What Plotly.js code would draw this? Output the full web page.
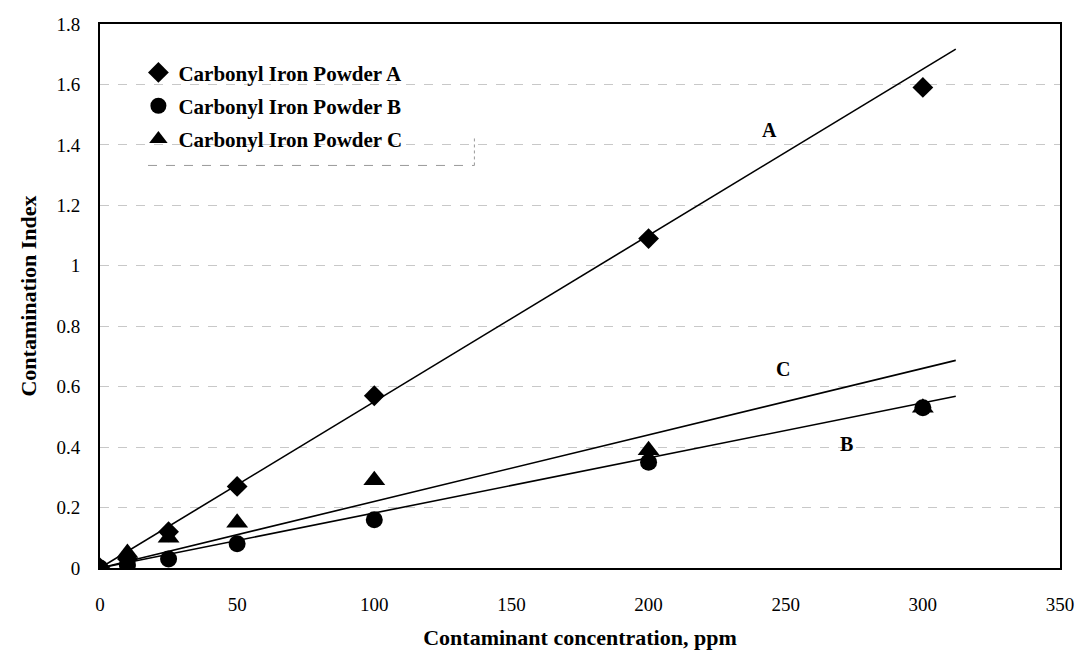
<!DOCTYPE html>
<html>
<head>
<meta charset="utf-8">
<script src="https://cdn.plot.ly/plotly-3.0.1.min.js"></script>
<style>html,body{margin:0;padding:0;background:#fff;}#chart{width:1083px;height:657px;}</style>
</head>
<body>
<div id="chart"></div>
<script>
// Measured data
const concentration = [0, 10, 25, 50, 100, 200, 300];
const powderA = [0, 0.03, 0.12, 0.27, 0.57, 1.09, 1.59];
const powderB = [0, 0.01, 0.03, 0.08, 0.16, 0.35, 0.53];
const powderC = [0, 0.05, 0.10, 0.15, 0.29, 0.39, 0.53];
// Trend lines
const trendX = [0, 312];
const trendA = [0, 1.717];
const trendB = [0, 0.568];
const trendC = [0, 0.687];
const seriesNames = ['Carbonyl Iron Powder A', 'Carbonyl Iron Powder B', 'Carbonyl Iron Powder C'];
const lineLabels = ['A', 'B', 'C'];
const labelX = [244, 272, 249];
const labelY = [1.45, 0.41, 0.66];
const yTicks = [0, 0.2, 0.4, 0.6, 0.8, 1, 1.2, 1.4, 1.6, 1.8];
const xTicks = [0, 50, 100, 150, 200, 250, 300, 350];

const serif = '"Liberation Serif", "Times New Roman", serif';

const traces = [];
const trendYs = [trendA, trendB, trendC];
trendYs.forEach(function (ty) {
  traces.push({x: trendX, y: ty, mode: 'lines', line: {color: '#000', width: 1.6}, showlegend: false, hoverinfo: 'skip'});
});
const sym = ['diamond', 'circle', 'triangle-up'];
const sz = [16, 17, 19];
[powderA, powderB, powderC].forEach(function (vals, i) {
  traces.push({
    x: concentration, y: vals, mode: 'markers', name: seriesNames[i],
    legendgroup: 'g' + i,
    marker: {symbol: sym[i], size: sz[i], color: '#000', line: {width: 0}}
  });
});

const annotations = lineLabels.map(function (t, i) {
  return {x: labelX[i], y: labelY[i], text: t, showarrow: false, font: {family: serif, size: 20, color: '#000', weight: 'bold'}};
});

const layout = {
  width: 1083, height: 657,
  paper_bgcolor: '#fff', plot_bgcolor: '#fff',
  margin: {l: 100, r: 23, t: 24, b: 89},
  font: {family: serif, color: '#000', size: 19},
  xaxis: {
    range: [0, 350], tickvals: xTicks, ticktext: xTicks.map(String),
    showgrid: false, zeroline: false, showline: true, mirror: true, linecolor: '#000', linewidth: 2,
    ticks: '', ticklabelstandoff: 18,
    tickfont: {family: serif, size: 19, color: '#000'},
    title: {text: '<b>Contaminant concentration, ppm</b>', font: {family: serif, size: 22, color: '#000'}, standoff: 16}
  },
  yaxis: {
    range: [0, 1.8], tickvals: yTicks, ticktext: yTicks.map(String),
    showgrid: true, gridcolor: '#c8c8c8', griddash: 'dash', gridwidth: 1,
    zeroline: false, showline: true, mirror: true, linecolor: '#000', linewidth: 2,
    ticks: '', ticklabelstandoff: 14,
    tickfont: {family: serif, size: 19, color: '#000'},
    title: {text: '<b>Contamination Index</b>', font: {family: serif, size: 22, color: '#000'}, standoff: 14}
  },
  legend: {
    x: 0.04, y: 0.948, xanchor: 'left', yanchor: 'top',
    bgcolor: 'rgba(255,255,255,0)', borderwidth: 0,
    font: {family: serif, size: 21, color: '#000', weight: 'bold'},
    tracegroupgap: 3, itemwidth: 30
  },
  shapes: [
    {type: 'line', xref: 'paper', yref: 'paper', x0: 0.05, x1: 0.39, y0: 0.74, y1: 0.74, line: {color: '#999', width: 1, dash: 'dash'}},
    {type: 'line', xref: 'paper', yref: 'paper', x0: 0.39, x1: 0.39, y0: 0.74, y1: 0.79, line: {color: '#999', width: 1, dash: 'dot'}}
  ],
  annotations: annotations,
  showlegend: true
};

Plotly.newPlot('chart', traces, layout, {displayModeBar: false, staticPlot: true});
</script>
</body>
</html>
